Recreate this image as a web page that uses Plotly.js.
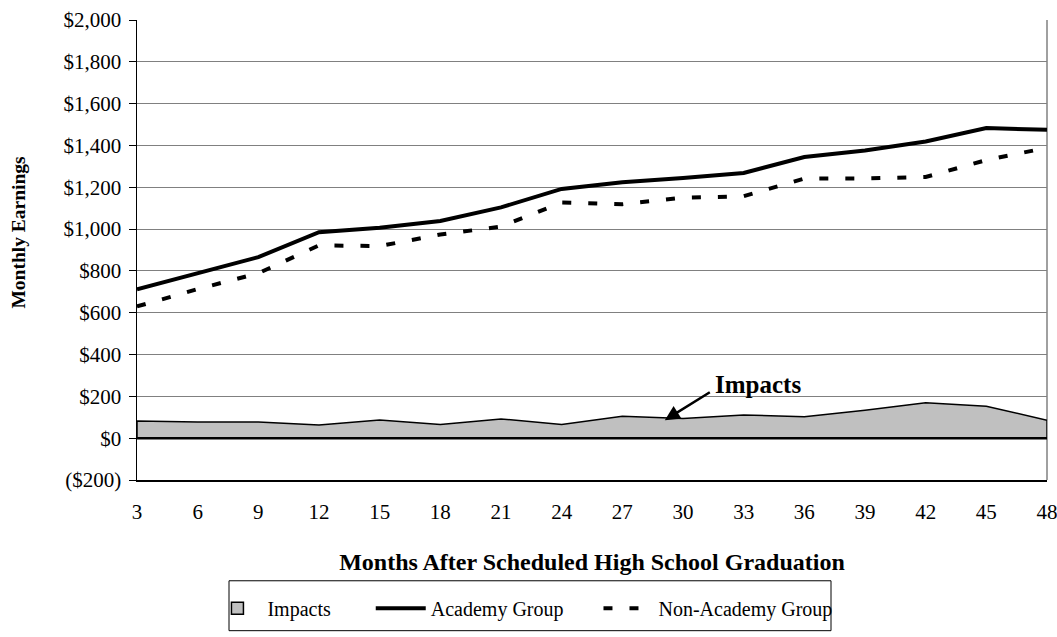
<!DOCTYPE html>
<html>
<head>
<meta charset="utf-8">
<script src="https://cdn.plot.ly/plotly-3.0.1.min.js"></script>
<style>html,body{margin:0;padding:0;background:#fff;}#chart{width:1057px;height:637px;}</style>
</head>
<body>
<div id="chart"></div>
<script>
// Data
const months = [3, 6, 9, 12, 15, 18, 21, 24, 27, 30, 33, 36, 39, 42, 45, 48];
const academy = [712, 790, 866, 985, 1006, 1039, 1104, 1192, 1224, 1244, 1268, 1345, 1376, 1419, 1483, 1475];
const nonAcademy = [630, 713, 789, 922, 919, 974, 1012, 1127, 1119, 1150, 1157, 1242, 1242, 1249, 1330, 1389];
const impacts = [82, 77, 77, 63, 87, 65, 92, 65, 105, 94, 111, 103, 134, 170, 153, 86];
const yTickVals = [-200, 0, 200, 400, 600, 800, 1000, 1200, 1400, 1600, 1800, 2000];
const yTickText = ['($200)', '$0', '$200', '$400', '$600', '$800', '$1,000', '$1,200', '$1,400', '$1,600', '$1,800', '$2,000'];

const FONT = 'Liberation Serif, Times New Roman, serif';
const NB = '\u00a0';
const TICK = 21, XTITLE = 24, YTITLE = 19.5, LEG = 20, ANN = 25;

// closed area polygon built from the impacts series (baseline at zero)
const areaX = [months[0]].concat(months, [months[months.length - 1]]);
const areaY = [0].concat(impacts, [0]);

const traces = [
  // legend entry for the shaded area (box symbol)
  {
    x: [null], y: [null], type: 'bar', name: 'Impacts' + NB.repeat(7),
    marker: {color: '#c0c0c0', line: {color: '#000', width: 1.5}}, hoverinfo: 'skip'
  },
  {
    x: areaX, y: areaY, type: 'scatter', mode: 'lines', fill: 'toself',
    fillcolor: '#c0c0c0', line: {color: '#000', width: 1.5},
    name: 'Impacts', showlegend: false, hoverinfo: 'skip'
  },
  {
    x: months, y: academy, type: 'scatter', mode: 'lines',
    line: {color: '#000', width: 4},
    name: 'Academy Group' + NB.repeat(6)
  },
  {
    x: months, y: nonAcademy, type: 'scatter', mode: 'lines',
    line: {color: '#000', width: 4, dash: '9px,17px'},
    name: 'Non-Academy Group'
  }
];

const layout = {
  width: 1057, height: 637,
  margin: {l: 137, r: 10, t: 20, b: 156},
  paper_bgcolor: '#fff', plot_bgcolor: '#fff',
  font: {family: FONT, size: TICK, color: '#000'},
  showlegend: true,
  legend: {
    orientation: 'h', x: 0.0774, xanchor: 'left', y: -0.234, yanchor: 'top',
    bgcolor: 'rgba(0,0,0,0)', borderwidth: 0,
    font: {family: FONT, size: LEG, color: '#000'},
    itemwidth: 50, traceorder: 'normal'
  },
  xaxis: {
    range: [3, 48], tickvals: months, ticktext: months.map(String),
    showgrid: false, zeroline: false, showline: true, linecolor: '#000', linewidth: 1.5,
    ticks: '', ticklabelstandoff: 12, ticklabeloverflow: 'allow',
    tickfont: {family: FONT, size: TICK, color: '#000'},
    title: {text: '<b>Months After Scheduled High School Graduation</b>', standoff: 30,
            font: {family: FONT, size: XTITLE, color: '#000'}}
  },
  yaxis: {
    range: [-200, 2000], tickvals: yTickVals, ticktext: yTickText,
    showgrid: true, gridcolor: '#808080', gridwidth: 1,
    zeroline: false, showline: true, linecolor: '#000', linewidth: 1.5,
    ticks: 'outside', ticklen: 7, tickcolor: '#000', tickwidth: 1,
    ticklabelstandoff: 3,
    tickfont: {family: FONT, size: TICK, color: '#000'}
  },
  shapes: [
    {type: 'line', xref: 'paper', yref: 'y', x0: 0, x1: 1, y0: 0, y1: 0,
     line: {color: '#000', width: 2.5}, layer: 'above'},
    {type: 'line', xref: 'paper', yref: 'paper', x0: 1, x1: 1, y0: 0, y1: 1,
     line: {color: '#808080', width: 1.5}, layer: 'below'},
    {type: 'rect', xref: 'paper', yref: 'paper',
     x0: (229 - 137) / 910, x1: (831 - 137) / 910,
     y0: (481 - 632) / 461, y1: (481 - 582) / 461,
     line: {color: '#000', width: 1}, fillcolor: 'rgba(0,0,0,0)'}
  ],
  annotations: [
    {x: 29.1, y: 86, ax: 31.4, ay: 224, axref: 'x', ayref: 'y', xref: 'x', yref: 'y',
     text: '', showarrow: true, arrowhead: 2, arrowsize: 1.2, arrowwidth: 2.5, arrowcolor: '#000'},
    {x: 31.5, y: 258, xref: 'x', yref: 'y', xanchor: 'left', yanchor: 'middle',
     text: '<b>Impacts</b>', showarrow: false,
     font: {family: FONT, size: ANN, color: '#000'}},
    // y-axis title
    {x: (19 - 137) / 910, y: (481 - 232) / 461, xref: 'paper', yref: 'paper',
     xanchor: 'center', yanchor: 'middle', textangle: -90, showarrow: false,
     text: '<b>Monthly Earnings</b>', font: {family: FONT, size: YTITLE, color: '#000'}}
  ]
};

Plotly.newPlot('chart', traces, layout, {displayModeBar: false, staticPlot: true});
</script>
</body>
</html>
